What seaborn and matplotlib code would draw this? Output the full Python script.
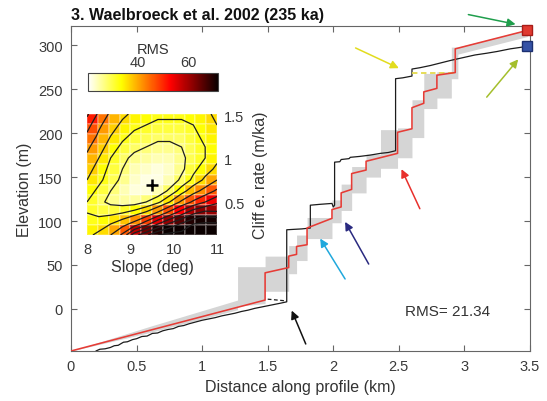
import numpy as np
import pandas as pd
import matplotlib
matplotlib.use("Agg")
import matplotlib.pyplot as plt
import seaborn as sns

# ---------------- data ----------------
title = "3. Waelbroeck et al. 2002 (235 ka)"

black_x = [0.19, 0.22, 0.26, 0.30, 0.33, 0.36, 0.40, 0.43, 0.47, 0.50, 0.54, 0.58, 0.62,
           0.66, 0.70, 0.74, 0.78, 0.82, 0.86, 0.90, 0.95, 1.00, 1.05, 1.10, 1.15, 1.20,
           1.25, 1.30, 1.35, 1.40, 1.45, 1.50, 1.55, 1.60, 1.645,
           1.645, 1.70, 1.76, 1.825, 1.825, 1.90, 1.99, 2.00, 2.01, 2.01, 2.05, 2.06,
           2.12, 2.13, 2.20, 2.28, 2.36, 2.42, 2.475, 2.475, 2.53, 2.60, 2.60, 2.66,
           2.74, 2.82, 2.90, 2.99, 3.08, 3.17, 3.25, 3.35, 3.42, 3.48]
black_y = [-48, -46, -45.5, -44, -42, -41.5, -38, -37.5, -35, -34, -31.5, -31, -28,
           -27.5, -25, -23.5, -22.5, -20, -19, -17, -15, -13, -11.5, -10, -8, -6.5,
           -5, -3, -1.5, 0.5, 2, 3.5, 5, 6.5, 8,
           90, 90.5, 91, 92, 118, 119, 120, 116, 118, 167, 167.5, 170,
           171, 172.5, 173.5, 175, 177, 178, 180, 262, 263, 265, 273, 274.5,
           277, 280, 283, 286, 289, 291, 293, 296, 297.5, 299]

red_x = [0.00, 1.48, 1.48, 1.66, 1.66, 1.72, 1.72, 1.80, 1.80, 1.99, 1.99, 2.06, 2.06,
         2.14, 2.14, 2.25, 2.25, 2.49, 2.49, 2.60, 2.60, 2.69, 2.69, 2.79, 2.79, 2.93,
         2.93, 3.48]
red_y = [-48, 10, 41, 47, 60, 62, 71, 73, 92, 103, 113, 116, 132,
         136, 154, 158, 168, 177, 201, 205, 229, 234, 247, 251, 266, 269,
         296, 317]

band_x = [0.00, 0.60, 1.27, 1.27, 1.48, 1.48, 1.66, 1.66, 1.72, 1.72, 1.80, 1.80, 1.99,
          1.99, 2.06, 2.06, 2.14, 2.14, 2.25, 2.25, 2.36, 2.36, 2.49, 2.49, 2.60, 2.60,
          2.69, 2.69, 2.79, 2.79, 2.90, 2.90, 2.95, 2.95, 3.48]
band_lo = [-48, -27, -1, 3, 6, 20, 20, 40, 40, 55, 55, 80, 80,
           98, 98, 112, 112, 132, 132, 150, 150, 160, 160, 172, 172, 195,
           195, 228, 228, 240, 240, 262, 262, 290, 310]
band_hi = [-48, -20, 10, 48, 48, 60, 60, 72, 72, 84, 84, 104, 104,
           124, 124, 142, 142, 162, 162, 176, 176, 204, 204, 206, 206, 238,
           238, 268, 268, 270, 270, 298, 298, 298, 318]

dash_black_x = [1.50, 1.645]
dash_black_y = [11, 9]
dash_yellow_x = [2.60, 2.92]
dash_yellow_y = [269, 269]

model_end = (3.48, 317)
obs_end = (3.48, 299)

arrow_tail = [(1.79, -40), (2.09, 34), (2.27, 51), (2.66, 114), (2.17, 297), (3.17, 241), (3.03, 335)]
arrow_head = [(1.683, -2), (1.90, 80), (2.09, 99), (2.52, 159), (2.50, 274), (3.41, 284), (3.39, 324)]
arrow_color = ["#111111", "#20a8dc", "#2a2a80", "#e8302c", "#e2dc1e", "#a4bf2c", "#1f9e4c"]

rms_text = "RMS= 21.34"

# inset grid: slope 8..11 (12 columns), cliff erosion rate rows from top (1.46) to bottom (0.18)
slope_edges = [8.0, 11.0]
rate_edges = [0.12, 1.52]
rms_grid = [
    [51, 44, 39, 36, 34, 33, 32, 32, 32, 33, 34, 36],
    [47, 41, 37, 34, 32, 31, 30, 30, 30, 31, 33, 35],
    [44, 39, 35, 32, 30, 29, 28, 28, 28, 30, 32, 34],
    [41, 37, 33, 30, 28, 27, 26, 26, 27, 29, 31, 33],
    [39, 35, 31, 28, 26, 25, 24, 24, 26, 29, 31, 34],
    [37, 33, 30, 27, 24, 23, 22, 23, 26, 30, 33, 36],
    [35, 32, 29, 26, 23, 21.5, 21.5, 24, 28, 32, 36, 40],
    [33, 30, 27, 24, 22, 22, 24, 28, 33, 38, 42, 46],
    [31, 28, 26, 25, 25, 27, 30, 35, 41, 46, 50, 54],
    [31, 30, 30, 31, 33, 36, 41, 47, 53, 59, 62, 61],
    [32, 33, 35, 38, 42, 48, 55, 61, 66, 70, 71, 71],
    [34, 36, 40, 46, 58, 64, 70, 72, 72, 72, 72, 72],
]
rms_levels = [27, 31, 35, 40, 45, 50, 55, 60, 65, 70]
best_slope = 9.5
best_rate = 0.70
slope_ticks = [8, 9, 10, 11]
rate_ticks = [1.5, 1.0, 0.5]
cbar_ticks = [40, 60]

# ---------------- style ----------------
sns.set_style("ticks")
plt.rcParams["font.family"] = ["Liberation Sans", "DejaVu Sans"]
plt.rcParams["text.color"] = "#333333"
plt.rcParams["axes.labelcolor"] = "#333333"
plt.rcParams["xtick.labelcolor"] = "#3a3a3a"
plt.rcParams["ytick.labelcolor"] = "#3a3a3a"

W, H = 547, 402
fig = plt.figure(figsize=(W / 100, H / 100), dpi=100)

def frect(l, t, r, b):
    return [l / W, 1 - b / H, (r - l) / W, (b - t) / H]

ax = fig.add_axes(frect(71, 27, 530, 352))
ax.set_xlim(0, 3.5)
ax.set_ylim(-48, 322)

ax.fill_between(band_x, band_lo, band_hi, color="#d5d5d5", lw=0, zorder=1)
sns.lineplot(x=black_x, y=black_y, sort=False, estimator=None, color="#1c1c1c",
             lw=0.9, ax=ax, zorder=3)
sns.lineplot(x=red_x, y=red_y, sort=False, estimator=None, color="#e63c36",
             lw=1.15, ax=ax, zorder=4)
ax.plot(dash_black_x, dash_black_y, ls=(0, (3, 2)), color="#1c1c1c", lw=0.9, zorder=3)
ax.plot(dash_yellow_x, dash_yellow_y, ls=(0, (3, 2)), color="#e4da4c", lw=1.3, zorder=3)

ax.plot(*model_end, marker="s", ms=7, mfc="#e03a30", mec="#a81c18", clip_on=False, zorder=6)
ax.plot(*obs_end, marker="s", ms=7, mfc="#3552a6", mec="#1c2f70", clip_on=False, zorder=6)

for t, h, c in zip(arrow_tail, arrow_head, arrow_color):
    ax.annotate("", xy=h, xytext=t, annotation_clip=False,
                arrowprops=dict(arrowstyle="-|>", color=c, lw=1.1, mutation_scale=12,
                                shrinkA=0, shrinkB=0), zorder=7)

ax.text(2.55, -3, rms_text, fontsize=11, va="center", ha="left", color="#333333")

ax.set_xticks([0, 0.5, 1, 1.5, 2, 2.5, 3, 3.5])
ax.set_xticklabels(["0", "0.5", "1", "1.5", "2", "2.5", "3", "3.5"])
ax.set_yticks([0, 50, 100, 150, 200, 250, 300])
ax.tick_params(direction="in", length=4, width=0.8, color="#666666", labelsize=10.5,
               top=True, right=True, pad=6)
for s in ax.spines.values():
    s.set_color("#666666")
    s.set_linewidth(0.8)
    s.set_visible(True)
ax.set_xlabel("Distance along profile (km)", fontsize=11.5, labelpad=4)
ax.set_ylabel("Elevation (m)", fontsize=11.5, labelpad=4)
ax.set_title(title, loc="left", fontweight="bold", fontsize=11.5, pad=5, color="#111111")

# ---------------- inset ----------------
axin = fig.add_axes(frect(87, 115, 217, 236))
cax = fig.add_axes(frect(88, 74, 218, 92))
Z = np.array(rms_grid, dtype=float)
nrow, ncol = Z.shape
sns.heatmap(Z, ax=axin, cmap="hot_r", vmin=20, vmax=72, cbar_ax=cax,
            cbar_kws=dict(orientation="horizontal", ticks=cbar_ticks),
            linewidths=0.3, linecolor=(1, 1, 1, 0.22),
            xticklabels=False, yticklabels=False)
axin.contour(np.linspace(0, ncol, ncol), np.linspace(0, nrow, nrow), Z, levels=rms_levels,
             colors="#1e1e1e", linewidths=0.9)

dslope = (slope_edges[1] - slope_edges[0]) / ncol
drate = (rate_edges[1] - rate_edges[0]) / nrow
axin.plot((best_slope - slope_edges[0]) / dslope, (rate_edges[1] - best_rate) / drate,
          marker="+", color="k", ms=8, mew=1.8)

axin.set_xticks([(v - slope_edges[0]) / dslope for v in slope_ticks])
axin.set_xticklabels([str(v) for v in slope_ticks])
axin.set_yticks([(rate_edges[1] - v) / drate for v in rate_ticks])
axin.set_yticklabels(["1.5", "1", "0.5"])
axin.yaxis.tick_right()
axin.yaxis.set_label_position("right")
axin.tick_params(length=0, labelsize=10.5, pad=5)
axin.tick_params(axis="y", labelrotation=0)
axin.set_xlabel("Slope (deg)", fontsize=11.5, labelpad=2)
axin.set_ylabel("Cliff e. rate (m/ka)", fontsize=11.5, labelpad=6, rotation=90)

cbar = axin.collections[0].colorbar
cbar.ax.xaxis.set_ticks_position("top")
cbar.ax.xaxis.set_label_position("top")
cbar.ax.tick_params(length=0, labelsize=10.5, pad=3)
cbar.set_label("RMS", fontsize=10.5, labelpad=1)
cbar.outline.set_edgecolor("#444444")
cbar.outline.set_linewidth(0.8)

fig.savefig("out.png", dpi=100)
